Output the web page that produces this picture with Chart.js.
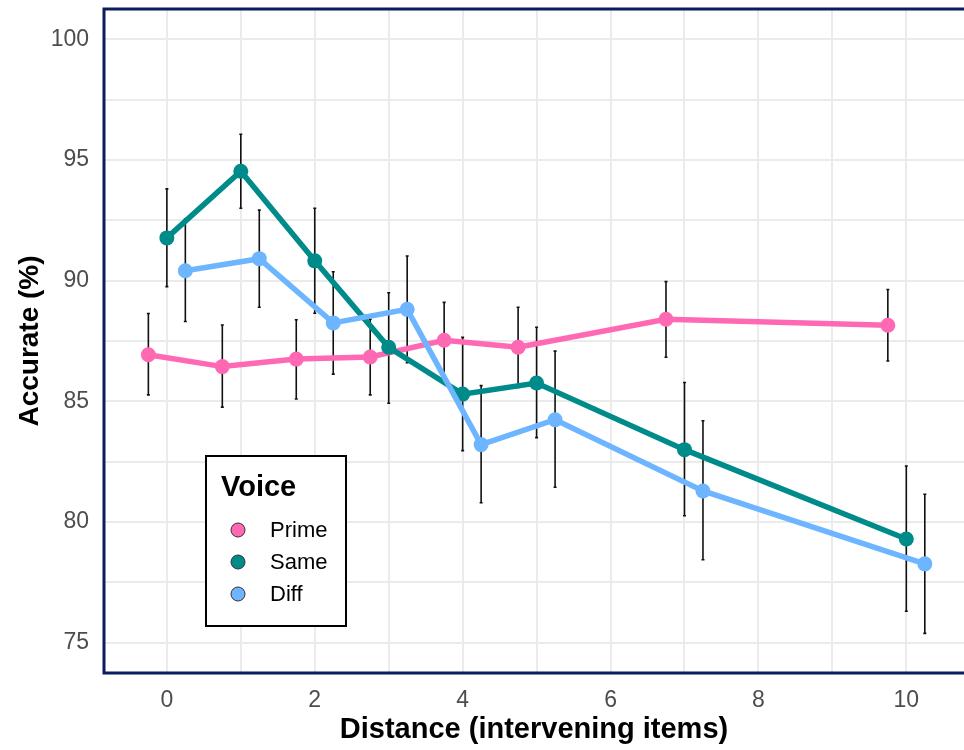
<!DOCTYPE html>
<html>
<head>
<meta charset="utf-8">
<script src="https://cdn.jsdelivr.net/npm/chart.js@4.4.0/dist/chart.umd.min.js"></script>
<style>
  body { margin: 0; background: #fff; }
  canvas { display: block; }
</style>
</head>
<body>
<canvas id="myChart" width="964" height="750"></canvas>
<script>
// distance (intervening items)
const distances = [0, 1, 2, 3, 4, 5, 7, 10];
const xTicks = [0, 1, 2, 3, 4, 5, 6, 7, 8, 9, 10];
const yTicks = [75, 77.5, 80, 82.5, 85, 87.5, 90, 92.5, 95, 97.5, 100];

const voices = ['Prime', 'Same', 'Diff'];
const voiceColors = ['#FF69B4', '#008B8B', '#6DB6FF'];
const dodge = [-0.25, 0, 0.25];

const prime = [86.93, 86.44, 86.75, 86.84, 87.53, 87.24, 88.40, 88.15];
const primeLo = [85.27, 84.76, 85.10, 85.27, 85.96, 85.58, 86.83, 86.67];
const primeHi = [88.64, 88.16, 88.38, 88.40, 89.10, 88.90, 89.96, 89.63];

const same = [91.77, 94.53, 90.82, 87.24, 85.30, 85.76, 83.00, 79.30];
const sameLo = [89.75, 93.00, 88.65, 84.92, 82.96, 83.50, 80.26, 76.31];
const sameHi = [93.80, 96.06, 93.00, 89.50, 87.65, 88.07, 85.78, 82.32];

const diff = [90.41, 90.91, 88.25, 88.81, 83.21, 84.24, 81.29, 78.27];
const diffLo = [88.31, 88.90, 86.13, 86.60, 80.80, 81.44, 78.44, 75.39];
const diffHi = [92.56, 92.92, 90.37, 91.02, 85.65, 87.08, 84.20, 81.15];

const means = [prime, same, diff];
const lows = [primeLo, sameLo, diffLo];
const highs = [primeHi, sameHi, diffHi];

const ctx = document.getElementById('myChart');
const fontFam = '"Liberation Sans", Arial, sans-serif';

const datasets = voices.map((v, i) => ({
  label: v,
  data: distances.map((d, j) => ({ x: d + dodge[i], y: means[i][j] })),
  borderColor: voiceColors[i],
  backgroundColor: voiceColors[i],
  borderWidth: 5.5,
  pointRadius: 7.5,
  pointHoverRadius: 7.5,
  pointBorderWidth: 0,
  showLine: true,
  tension: 0,
  order: 3 - i
}));

// error bars, drawn under the lines
const errorBars = {
  id: 'errorBars',
  beforeDatasetsDraw(chart) {
    const c = chart.ctx;
    const xs = chart.scales.x, ys = chart.scales.y;
    c.save();
    c.strokeStyle = '#111';
    c.lineWidth = 1.6;
    voices.forEach((v, i) => {
      distances.forEach((d, j) => {
        const px = xs.getPixelForValue(d + dodge[i]);
        const top = ys.getPixelForValue(highs[i][j]);
        const bot = ys.getPixelForValue(lows[i][j]);
        c.beginPath();
        c.moveTo(px, top); c.lineTo(px, bot);
        c.moveTo(px - 1.5, top); c.lineTo(px + 1.5, top);
        c.moveTo(px - 1.5, bot); c.lineTo(px + 1.5, bot);
        c.stroke();
      });
    });
    c.restore();
  }
};

// panel border + legend box inside the plot
const panelAndLegend = {
  id: 'panelAndLegend',
  afterDraw(chart) {
    const c = chart.ctx;
    const a = chart.chartArea;
    c.save();
    c.strokeStyle = '#0B1D5C';
    c.lineWidth = 3;
    c.beginPath();
    c.moveTo(chart.width + 2, a.top);
    c.lineTo(a.left, a.top);
    c.lineTo(a.left, a.bottom);
    c.lineTo(chart.width + 2, a.bottom);
    c.stroke();

    // legend
    c.fillStyle = '#fff';
    c.fillRect(206, 456, 140, 170);
    c.strokeStyle = '#000';
    c.lineWidth = 2;
    c.strokeRect(206, 456, 140, 170);
    c.fillStyle = '#000';
    c.font = 'bold 29px ' + fontFam;
    c.textBaseline = 'alphabetic';
    c.textAlign = 'left';
    c.fillText('Voice', 221, 496);
    c.font = '22px ' + fontFam;
    c.textBaseline = 'middle';
    voices.forEach((v, i) => {
      const y = 530 + i * 32;
      c.beginPath();
      c.arc(238, y, 7, 0, Math.PI * 2);
      c.fillStyle = voiceColors[i];
      c.fill();
      c.strokeStyle = '#333';
      c.lineWidth = 1;
      c.stroke();
      c.fillStyle = '#000';
      c.fillText(v, 270, y + 1);
    });
    c.restore();
  }
};

const noEdgePad = (s) => {
  s.paddingTop = 0; s.paddingBottom = 0;
  s.paddingLeft = 0; s.paddingRight = 0;
};

const myChart = new Chart(ctx, {
  type: 'scatter',
  data: { datasets: datasets },
  options: {
    responsive: false,
    animation: false,
    layout: { autoPadding: false, padding: { top: 9, right: 0, left: 0, bottom: 0 } },
    plugins: {
      legend: { display: false },
      tooltip: { enabled: false }
    },
    scales: {
      x: {
        type: 'linear',
        min: -0.85,
        max: 10.78,
        afterBuildTicks: (s) => { s.ticks = xTicks.map(v => ({ value: v })); },
        afterFit: (s) => { s.height = 77; noEdgePad(s); },
        grid: { color: '#ebebeb', lineWidth: 2, drawTicks: false },
        border: { display: false },
        ticks: {
          padding: 14,
          color: '#4d4d4d',
          font: { family: fontFam, size: 23 },
          maxRotation: 0,
          autoSkip: false,
          callback: (v) => (v % 2 === 0 ? String(v) : '')
        },
        title: {
          display: true,
          text: 'Distance (intervening items)',
          color: '#000',
          font: { family: fontFam, size: 29, weight: 'bold' },
          padding: { top: 0, bottom: 3 }
        }
      },
      y: {
        type: 'linear',
        min: 73.75,
        max: 101.25,
        afterBuildTicks: (s) => { s.ticks = yTicks.map(v => ({ value: v })); },
        afterFit: (s) => { s.width = 104; noEdgePad(s); },
        grid: { color: '#ebebeb', lineWidth: 2, drawTicks: false },
        border: { display: false },
        ticks: {
          padding: 15,
          color: '#4d4d4d',
          font: { family: fontFam, size: 23 },
          autoSkip: false,
          callback: (v) => (v % 5 === 0 ? String(v) : '')
        },
        title: {
          display: true,
          text: 'Accurate (%)',
          color: '#000',
          font: { family: fontFam, size: 28, weight: 'bold' },
          padding: { top: 13, bottom: 0 }
        }
      }
    }
  },
  plugins: [errorBars, panelAndLegend]
});
</script>
</body>
</html>
